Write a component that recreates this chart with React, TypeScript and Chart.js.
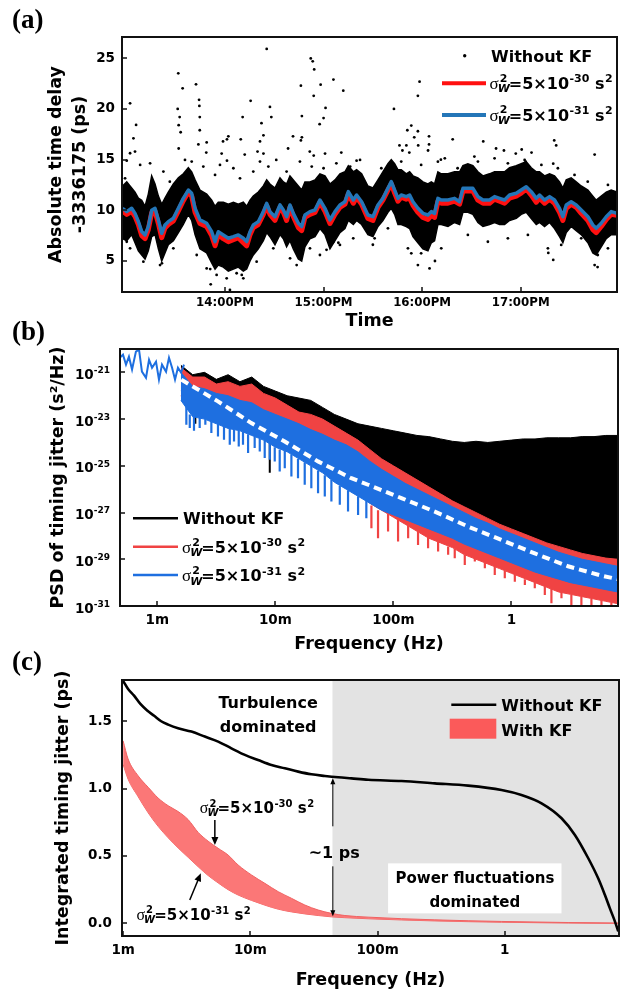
import React, { useEffect, useRef } from 'react';
import { Chart, registerables } from 'chart.js';

Chart.register(...registerables);

const SANS = '"DejaVu Sans", "Liberation Sans", Arial, sans-serif';
const SERIF = '"Liberation Serif", "DejaVu Serif", serif';

// ================= Panel (a): absolute time delay =================
const timeHours = [12.96, 13.003, 13.053, 13.087, 13.121, 13.155, 13.189, 13.222, 13.256, 13.29, 13.324, 13.358, 13.391, 13.425, 13.476, 13.527, 13.577, 13.628, 13.662, 13.696, 13.746, 13.814, 13.865, 13.899, 13.932, 13.983, 14.034, 14.085, 14.135, 14.186, 14.22, 14.254, 14.287, 14.338, 14.389, 14.423, 14.456, 14.507, 14.558, 14.592, 14.625, 14.659, 14.693, 14.744, 14.778, 14.811, 14.862, 14.913, 14.963, 15.014, 15.065, 15.116, 15.166, 15.217, 15.251, 15.302, 15.335, 15.386, 15.45, 15.501, 15.552, 15.602, 15.653, 15.687, 15.721, 15.755, 15.788, 15.839, 15.873, 15.907, 15.957, 16.008, 16.059, 16.093, 16.126, 16.16, 16.194, 16.262, 16.329, 16.38, 16.414, 16.464, 16.515, 16.566, 16.617, 16.684, 16.735, 16.786, 16.836, 16.887, 16.955, 17.005, 17.056, 17.107, 17.158, 17.191, 17.242, 17.293, 17.343, 17.394, 17.428, 17.462, 17.512, 17.563, 17.614, 17.682, 17.732, 17.766, 17.817, 17.868, 17.918, 17.977];
const kf31Delay = [10.2, 9.87, 10.2, 9.7, 8.9, 7.9, 7.57, 8.4, 10.0, 10.2, 9.05, 7.73, 8.55, 8.88, 9.21, 10.2, 11.18, 12.0, 11.68, 10.2, 9.05, 8.72, 7.89, 6.91, 7.89, 7.57, 7.24, 7.4, 7.57, 7.24, 6.91, 7.89, 8.55, 8.88, 9.87, 10.69, 9.87, 9.37, 10.53, 10.03, 9.37, 10.53, 9.7, 8.72, 8.39, 9.54, 9.87, 10.03, 11.02, 10.2, 9.05, 9.87, 10.53, 10.85, 11.84, 11.02, 11.51, 10.85, 9.54, 9.37, 10.53, 11.18, 12.17, 12.83, 12.0, 11.18, 11.51, 11.35, 11.51, 10.85, 10.2, 9.7, 9.54, 9.87, 9.7, 11.18, 11.02, 11.02, 11.18, 10.85, 12.17, 12.17, 12.17, 11.35, 11.02, 11.02, 11.35, 11.18, 11.02, 11.51, 11.68, 12.0, 12.33, 11.84, 11.18, 11.51, 11.02, 11.35, 11.02, 10.2, 9.37, 10.53, 10.85, 10.53, 10.03, 9.37, 8.55, 8.22, 8.72, 9.37, 9.87, 9.7];
const kf30Delay = [9.95, 9.6, 9.9, 9.4, 8.6, 7.5, 7.2, 8.1, 9.75, 9.9, 8.7, 7.3, 8.25, 8.6, 8.95, 9.95, 10.95, 11.8, 11.4, 9.8, 8.7, 8.4, 7.5, 6.5, 7.6, 7.2, 6.9, 7.1, 7.3, 6.8, 6.5, 7.6, 8.3, 8.6, 9.6, 10.45, 9.6, 9.0, 10.3, 9.8, 9.0, 10.3, 9.4, 8.3, 8.0, 9.3, 9.6, 9.8, 10.8, 9.9, 8.7, 9.6, 10.3, 10.6, 11.6, 10.7, 11.3, 10.6, 9.2, 9.0, 10.3, 11.0, 12.0, 12.6, 11.7, 10.9, 11.3, 11.1, 11.2, 10.5, 9.8, 9.3, 9.1, 9.5, 9.3, 10.9, 10.7, 10.7, 10.9, 10.6, 11.9, 11.9, 11.9, 11.0, 10.7, 10.7, 11.1, 10.9, 10.7, 11.2, 11.4, 11.7, 12.1, 11.5, 10.8, 11.2, 10.7, 11.1, 10.7, 9.8, 9.0, 10.2, 10.6, 10.3, 9.7, 9.0, 8.1, 7.8, 8.4, 9.1, 9.6, 9.5];
const rawDenseUpper = [12.4, 12.8, 12.2, 11.8, 11.2, 11.0, 10.4, 11.6, 13.4, 12.6, 11.4, 10.6, 11.2, 11.8, 12.6, 13.2, 13.6, 14.2, 13.8, 13.0, 12.0, 11.6, 11.0, 10.4, 10.8, 10.8, 10.6, 10.8, 10.6, 10.8, 10.4, 11.0, 11.4, 11.8, 12.4, 13.0, 12.6, 12.2, 13.2, 12.8, 12.6, 13.4, 13.0, 12.4, 12.0, 12.8, 12.8, 13.0, 13.6, 13.4, 12.6, 13.0, 13.6, 13.8, 14.4, 13.8, 14.0, 13.6, 12.4, 12.2, 13.0, 13.8, 14.6, 15.0, 14.6, 14.0, 14.0, 13.6, 13.8, 13.4, 13.2, 12.8, 12.6, 12.8, 12.6, 13.8, 13.6, 13.6, 13.8, 13.8, 14.4, 14.6, 14.4, 13.8, 13.4, 13.6, 13.8, 13.8, 13.8, 14.2, 14.4, 14.6, 14.8, 14.2, 13.8, 13.8, 13.4, 13.6, 13.4, 12.8, 12.2, 13.0, 13.2, 12.8, 12.4, 12.0, 11.4, 11.0, 11.4, 11.8, 12.0, 11.8];
const rawDenseLower = [7.2, 7.0, 7.6, 6.8, 6.0, 5.6, 5.2, 6.0, 7.4, 7.6, 6.2, 5.0, 5.8, 6.6, 7.0, 7.8, 8.6, 9.6, 9.0, 7.6, 6.2, 5.8, 4.8, 4.2, 4.6, 4.4, 4.0, 4.2, 4.4, 4.0, 4.2, 5.0, 5.6, 6.2, 7.0, 7.8, 7.4, 6.6, 7.6, 7.2, 6.4, 7.0, 6.2, 5.2, 5.0, 6.4, 7.2, 7.4, 8.2, 7.6, 6.2, 7.0, 7.8, 8.2, 9.0, 8.6, 9.0, 8.6, 7.6, 7.4, 8.4, 9.0, 9.8, 10.2, 9.6, 8.6, 8.6, 8.4, 8.2, 7.4, 6.8, 6.2, 6.0, 6.8, 7.0, 8.6, 8.6, 8.4, 8.8, 8.6, 9.8, 9.8, 9.6, 8.8, 8.4, 8.6, 8.8, 8.6, 8.6, 9.0, 9.2, 9.6, 9.8, 9.2, 8.6, 8.8, 8.4, 8.8, 8.2, 7.4, 6.8, 7.8, 8.4, 8.0, 7.6, 6.8, 5.8, 5.6, 6.4, 7.2, 7.6, 7.6];
const rawOutlierHours = [13.037, 13.071, 13.098, 13.037, 13.087, 13.003, 13.526, 13.57, 13.52, 13.54, 13.53, 13.55, 13.53, 13.706, 13.737, 13.74, 13.744, 13.744, 13.73, 13.814, 13.81, 14.05, 13.855, 13.966, 14.034, 14.02, 13.98, 14.02, 14.179, 14.16, 14.2, 14.26, 14.33, 14.37, 14.39, 14.355, 14.423, 14.456, 14.47, 14.39, 14.77, 14.78, 14.78, 14.77, 14.64, 14.69, 14.87, 14.89, 14.905, 14.9, 14.97, 15.0, 14.96, 14.86, 14.9, 15.02, 15.1, 15.2, 15.015, 15.18, 15.335, 14.17, 13.36, 13.85, 15.03, 15.1, 15.15, 15.974, 15.957, 15.714, 15.89, 15.85, 15.957, 15.77, 15.8, 15.84, 15.87, 15.96, 15.92, 16.07, 16.07, 16.06, 16.16, 16.31, 16.19, 16.53, 16.62, 16.75, 16.83, 16.95, 17.01, 17.05, 17.11, 17.34, 17.36, 17.33, 17.75, 15.89, 15.99, 16.13, 17.28, 17.33, 17.75, 17.78, 15.5];
const rawOutlierDelay = [20.56, 17.1, 18.42, 15.63, 15.8, 14.9, 23.52, 22.04, 20.0, 19.2, 18.4, 17.7, 16.1, 22.43, 20.9, 20.3, 19.2, 17.9, 16.5, 16.7, 15.7, 2.14, 2.7, 15.6, 17.3, 17.0, 16.8, 14.9, 19.2, 17.0, 15.5, 20.8, 15.8, 18.6, 17.4, 16.8, 25.92, 20.2, 19.2, 15.6, 22.3, 19.3, 17.2, 16.9, 16.1, 17.3, 24.99, 24.7, 23.9, 21.3, 22.4, 19.1, 18.5, 15.8, 15.4, 20.1, 22.9, 21.8, 15.6, 15.7, 14.9, 3.62, 4.77, 4.2, 6.1, 6.9, 6.8, 22.69, 21.3, 20.0, 18.36, 17.9, 17.8, 16.4, 15.9, 16.4, 15.7, 16.4, 17.2, 17.3, 16.5, 15.9, 14.8, 17.0, 15.0, 15.3, 16.8, 16.1, 15.9, 15.6, 16.0, 14.8, 15.7, 16.9, 16.4, 14.6, 15.5, 5.76, 5.76, 5.0, 5.8, 5.1, 4.6, 4.4, 6.6];
const rawEdgeHours = [12.986, 13.139, 13.24, 13.375, 13.44, 13.594, 13.662, 13.78, 13.899, 13.949, 14.085, 14.152, 14.287, 14.355, 14.44, 14.52, 14.625, 14.76, 14.88, 15.0, 15.13, 15.27, 15.37, 13.003, 13.037, 13.172, 13.341, 13.476, 13.713, 13.814, 13.915, 14.017, 14.118, 14.186, 14.321, 14.49, 14.66, 14.727, 14.862, 14.963, 15.166, 15.301, 15.586, 15.788, 15.99, 16.23, 16.36, 16.566, 16.735, 16.87, 17.04, 17.21, 17.377, 17.546, 17.68, 17.885, 15.518, 15.653, 15.856, 15.957, 16.075, 16.194, 16.464, 16.667, 16.87, 17.073, 17.276, 17.411, 17.614, 17.782, 17.885];
const rawEdgeDelay = [13.16, 14.48, 14.64, 13.82, 12.83, 14.97, 14.81, 14.32, 13.49, 14.48, 14.15, 13.16, 13.82, 14.81, 14.32, 14.97, 13.82, 14.81, 14.32, 14.15, 14.64, 14.32, 14.97, 6.9, 6.25, 4.93, 4.6, 6.25, 5.59, 4.27, 3.62, 3.29, 3.79, 3.29, 4.93, 6.25, 5.26, 4.6, 6.25, 5.59, 6.58, 7.24, 14.15, 14.81, 14.48, 15.13, 14.15, 14.81, 15.13, 14.64, 14.97, 14.48, 14.15, 13.49, 12.83, 12.5, 7.24, 8.22, 6.25, 4.6, 4.27, 6.25, 7.57, 6.9, 7.24, 7.57, 6.25, 6.58, 7.24, 5.59, 6.25];
const timeTickValues = [14, 15, 16, 17];
const timeTickLabels = ['14:00PM', '15:00PM', '16:00PM', '17:00PM'];
const delayTickValues = [5, 10, 15, 20, 25];

// ================= Panel (b): PSD (values as log10 exponents) =================
const psdLowFreq = [0.000483, 0.000512, 0.000543, 0.000575, 0.000611, 0.000659, 0.0007, 0.000741, 0.000802, 0.000851, 0.000902, 0.000975, 0.001033, 0.001096, 0.001186, 0.001256, 0.001334, 0.001413, 0.001496, 0.001589, 0.001683];
const psdLowExp = [-20.37, -20.24, -20.67, -20.33, -20.88, -20.11, -20.03, -20.97, -21.23, -20.46, -20.8, -20.54, -21.31, -20.67, -20.97, -20.37, -20.8, -21.31, -20.8, -21.01, -20.67];
const psdFreq = [0.001585, 0.001995, 0.002512, 0.003162, 0.003981, 0.005012, 0.00631, 0.007943, 0.01, 0.01259, 0.01585, 0.01995, 0.02512, 0.03162, 0.03981, 0.05012, 0.0631, 0.07943, 0.1, 0.1259, 0.1585, 0.1995, 0.2512, 0.3162, 0.3981, 0.5012, 0.631, 0.7943, 1, 1.259, 1.585, 1.995, 2.512, 3.162, 3.981, 5.012, 6.31, 7.943];
const noKfUpperExp = [-20.7, -21.1, -21.0, -21.3, -21.1, -21.4, -21.2, -21.6, -21.8, -22.0, -22.1, -22.2, -22.5, -22.8, -23.0, -23.2, -23.3, -23.4, -23.5, -23.6, -23.7, -23.75, -23.85, -23.95, -24.0, -23.95, -24.0, -23.95, -23.9, -23.85, -23.85, -23.8, -23.8, -23.8, -23.75, -23.75, -23.7, -23.7];
const noKfLowerExp = [-21.8, -22.2, -22.2, -22.5, -22.4, -22.6, -22.5, -22.9, -23.1, -23.4, -23.7, -23.8, -24.0, -24.3, -24.6, -24.9, -25.3, -25.7, -26.0, -26.3, -26.6, -26.9, -27.2, -27.5, -27.75, -28.0, -28.25, -28.5, -28.7, -28.9, -29.1, -29.3, -29.45, -29.6, -29.75, -29.85, -29.95, -30.0];
const kf30UpperExp = [-20.8, -21.2, -21.2, -21.5, -21.4, -21.6, -21.5, -21.9, -22.1, -22.4, -22.7, -22.8, -23.0, -23.3, -23.6, -23.9, -24.3, -24.7, -25.0, -25.3, -25.6, -25.9, -26.2, -26.5, -26.75, -27.0, -27.25, -27.5, -27.7, -27.9, -28.1, -28.3, -28.45, -28.6, -28.75, -28.85, -28.95, -29.0];
const kf30LowerExp = [-22.0, -22.8, -22.8, -23.0, -23.2, -23.3, -23.5, -23.7, -24.0, -24.2, -24.5, -24.8, -25.2, -25.5, -25.9, -26.2, -26.6, -26.9, -27.2, -27.5, -27.8, -28.1, -28.3, -28.5, -28.8, -29.0, -29.2, -29.4, -29.6, -29.8, -30.0, -30.2, -30.4, -30.5, -30.6, -30.7, -30.8, -30.9];
const kf31UpperExp = [-21.0, -21.6, -21.7, -21.9, -22.0, -22.2, -22.3, -22.6, -22.8, -23.0, -23.2, -23.45, -23.65, -23.9, -24.1, -24.4, -24.8, -25.15, -25.45, -25.75, -26.0, -26.25, -26.5, -26.75, -27.0, -27.25, -27.45, -27.7, -27.9, -28.1, -28.3, -28.5, -28.7, -28.85, -29.0, -29.1, -29.2, -29.3];
const kf31LowerExp = [-22.2, -22.9, -23.0, -23.2, -23.4, -23.5, -23.7, -23.9, -24.2, -24.4, -24.7, -25.0, -25.3, -25.7, -26.0, -26.3, -26.6, -26.9, -27.1, -27.3, -27.5, -27.7, -27.9, -28.1, -28.35, -28.55, -28.75, -28.95, -29.15, -29.35, -29.55, -29.7, -29.85, -30.0, -30.1, -30.2, -30.3, -30.4];
const fitFreq = [0.001596, 0.003266, 0.006266, 0.01202, 0.02301, 0.04406, 0.06109, 0.1169, 0.2244, 0.4295, 0.8222, 1.578, 3.02, 5.794, 7.943];
const fitExp = [-21.31, -22.24, -23.17, -23.96, -24.81, -25.53, -25.81, -26.38, -26.96, -27.6, -28.17, -28.75, -29.3, -29.7, -29.85];
const kf31SpikeFreq = [0.001762, 0.001884, 0.002046, 0.002286, 0.002553, 0.002871, 0.003266, 0.003673, 0.004111, 0.004467, 0.004898, 0.005321, 0.005875, 0.006683, 0.007379, 0.008128, 0.008974, 0.009886, 0.01089, 0.01202, 0.01368, 0.01556, 0.01774, 0.02018, 0.02301, 0.02624, 0.02985, 0.03516, 0.0413, 0.05023, 0.05902];
const kf31SpikeTopExp = [-22.4, -22.8, -22.9, -22.95, -23.0, -23.1, -23.2, -23.3, -23.4, -23.45, -23.5, -23.55, -23.65, -23.75, -23.85, -23.9, -24.05, -24.2, -24.3, -24.35, -24.5, -24.7, -24.85, -25.0, -25.2, -25.4, -25.6, -25.85, -26.05, -26.3, -26.5];
const kf31SpikeBottomExp = [-23.24, -23.38, -23.5, -23.38, -23.24, -23.6, -23.74, -23.88, -24.1, -23.96, -24.17, -24.1, -24.45, -24.24, -24.39, -24.67, -24.74, -24.81, -25.24, -25.1, -25.46, -25.53, -25.81, -25.96, -26.17, -26.31, -26.53, -26.67, -26.96, -27.1, -27.24];
const kf30SpikeFreq = [0.06516, 0.07413, 0.09016, 0.1096, 0.1334, 0.1618, 0.1968, 0.2393, 0.2911, 0.3311, 0.4027, 0.4898, 0.5957, 0.7228, 0.879, 1.069, 1.3, 1.578, 1.919, 2.183, 2.655, 3.221, 3.917, 4.764, 5.794, 7.031];
const kf30SpikeTopExp = [-26.7, -26.9, -27.05, -27.3, -27.55, -27.75, -28.0, -28.25, -28.45, -28.55, -28.8, -28.95, -29.15, -29.3, -29.5, -29.65, -29.85, -30.0, -30.15, -30.25, -30.4, -30.5, -30.6, -30.7, -30.75, -30.85];
const kf30SpikeBottomExp = [-27.67, -28.1, -27.81, -28.24, -28.1, -28.39, -28.53, -28.67, -28.81, -28.96, -29.24, -29.1, -29.38, -29.67, -29.81, -29.96, -30.1, -30.24, -30.53, -30.88, -30.67, -30.96, -31, -31, -31, -31];
const noKfSpikeFreq = [0.00897, 0.0021];
const noKfSpikeTopExp = [-24.0, -22.7];
const noKfSpikeBottomExp = [-25.3, -23.2];
const freqTickValues = [0.001, 0.01, 0.1, 1];
const freqTickLabels = ['1m', '10m', '100m', '1'];
const psdTickExps = [-31, -29, -27, -25, -23, -21];

// ================= Panel (c): integrated timing jitter =================
const jitNoKfFreq = [0.001, 0.001094, 0.001219, 0.001361, 0.001545, 0.001754, 0.001991, 0.00226, 0.002704, 0.003443, 0.004385, 0.005585, 0.007096, 0.009057, 0.0115, 0.01466, 0.01866, 0.02377, 0.0302, 0.03855, 0.04898, 0.06237, 0.08433, 0.1542, 0.2818, 0.5152, 0.9419, 1.352, 1.945, 2.793, 3.556, 4.529, 5.42, 6.124, 6.699, 7.345, 7.8];
const jitNoKf = [1.80, 1.74, 1.69, 1.63, 1.58, 1.54, 1.50, 1.475, 1.448, 1.423, 1.386, 1.349, 1.299, 1.25, 1.212, 1.175, 1.151, 1.126, 1.106, 1.094, 1.084, 1.076, 1.066, 1.056, 1.039, 1.022, 0.99, 0.953, 0.891, 0.78, 0.656, 0.483, 0.334, 0.21, 0.111, 0.013, -0.06];
const jitKfFreq = [0.001, 0.001094, 0.001312, 0.001574, 0.001884, 0.00226, 0.002704, 0.003243, 0.00389, 0.004656, 0.005585, 0.006683, 0.008017, 0.01021, 0.013, 0.01656, 0.02104, 0.0268, 0.03412, 0.04345, 0.05534, 0.08433, 0.2818, 0.9419, 3.148, 7.798];
const jitKf30 = [1.355, 1.22, 1.095, 1.01, 0.93, 0.873, 0.83, 0.77, 0.675, 0.61, 0.557, 0.507, 0.433, 0.359, 0.297, 0.235, 0.186, 0.136, 0.099, 0.074, 0.058, 0.046, 0.026, 0.014, 0.006, 0.002];
const jitKf31 = [1.18, 1.07, 0.94, 0.82, 0.72, 0.635, 0.56, 0.49, 0.42, 0.355, 0.30, 0.25, 0.21, 0.17, 0.135, 0.105, 0.085, 0.07, 0.058, 0.048, 0.042, 0.034, 0.018, 0.008, 0.002, 0.0];
const jitTickValues = [0, 0.5, 1.0, 1.5];
const turbulenceEdgeFreq = 0.0442;

// ================= helpers =================
const pts = (xs: number[], ys: number[]) => xs.map((x, i) => ({ x, y: ys[i] }));
const ptsExp = (xs: number[], es: number[]) => xs.map((x, i) => ({ x, y: Math.pow(10, es[i]) }));
const spikes = (xs: number[], tops: number[], bottoms: number[]) =>
  xs.flatMap((x, i) => [
    { x, y: Math.pow(10, tops[i]) },
    { x, y: Math.pow(10, bottoms[i]) },
    { x, y: null as any },
  ]);

const tickFont = { family: SANS, size: 13.5, weight: 'bold' as any };
const titleFont = { family: SANS, size: 17.5, weight: 'bold' as any, lineHeight: 1.2 };

const font = (size: number, italic = false, fam = SANS) => `${italic ? 'italic ' : ''}bold ${size}px ${fam}`;

function drawSigma(ctx: CanvasRenderingContext2D, x: number, baseline: number, exp: string, size: number) {
  const small = Math.round(size * 0.66);
  ctx.save();
  ctx.fillStyle = '#000';
  ctx.textAlign = 'left';
  ctx.textBaseline = 'alphabetic';
  ctx.font = `${size + 1}px ${SERIF}`;
  ctx.fillText('σ', x, baseline);
  x += ctx.measureText('σ').width;
  ctx.font = font(small);
  ctx.fillText('2', x + 1, baseline - size * 0.45);
  const w2 = ctx.measureText('2').width;
  ctx.font = font(small, true);
  ctx.fillText('W', x - 1, baseline + size * 0.2);
  const wW = ctx.measureText('W').width;
  x += Math.max(w2 + 1, wW - 2);
  ctx.font = font(size);
  ctx.fillText('=5×10', x, baseline);
  x += ctx.measureText('=5×10').width + 0.5;
  ctx.font = font(small);
  ctx.fillText(exp, x, baseline - size * 0.42);
  x += ctx.measureText(exp).width;
  ctx.font = font(size);
  ctx.fillText(' s', x, baseline);
  x += ctx.measureText(' s').width + 0.5;
  ctx.font = font(small);
  ctx.fillText('2', x, baseline - size * 0.42);
  ctx.restore();
}

function drawArrow(ctx: CanvasRenderingContext2D, x1: number, y1: number, x2: number, y2: number, lw: number, head: number, hw: number) {
  const ang = Math.atan2(y2 - y1, x2 - x1);
  ctx.save();
  ctx.strokeStyle = '#000';
  ctx.fillStyle = '#000';
  ctx.lineWidth = lw;
  ctx.beginPath();
  ctx.moveTo(x1, y1);
  ctx.lineTo(x2 - Math.cos(ang) * head * 0.8, y2 - Math.sin(ang) * head * 0.8);
  ctx.stroke();
  ctx.beginPath();
  ctx.moveTo(x2, y2);
  ctx.lineTo(x2 - Math.cos(ang) * head - Math.sin(ang) * hw, y2 - Math.sin(ang) * head + Math.cos(ang) * hw);
  ctx.lineTo(x2 - Math.cos(ang) * head + Math.sin(ang) * hw, y2 - Math.sin(ang) * head - Math.cos(ang) * hw);
  ctx.closePath();
  ctx.fill();
  ctx.restore();
}

const framePlugin = {
  id: 'frame',
  afterDraw(chart: any) {
    const { ctx, chartArea: a, scales } = chart;
    ctx.save();
    ctx.strokeStyle = '#111';
    ctx.lineWidth = 2;
    ctx.strokeRect(a.left, a.top, a.right - a.left, a.bottom - a.top);
    ctx.lineWidth = 1.5;
    ctx.beginPath();
    scales.x.ticks.forEach((t: any) => {
      const p = Math.round(scales.x.getPixelForValue(t.value));
      ctx.moveTo(p, a.bottom);
      ctx.lineTo(p, a.bottom - 5);
    });
    scales.y.ticks.forEach((t: any) => {
      const p = Math.round(scales.y.getPixelForValue(t.value));
      ctx.moveTo(a.left, p);
      ctx.lineTo(a.left + 5, p);
    });
    ctx.stroke();
    ctx.restore();
  },
};

const letterPlugin = (text: string, x: number, y: number) => ({
  id: 'letter' + text,
  afterDraw(chart: any) {
    const ctx = chart.ctx;
    ctx.save();
    ctx.fillStyle = '#000';
    ctx.font = `bold 27px ${SERIF}`;
    ctx.textAlign = 'left';
    ctx.textBaseline = 'alphabetic';
    ctx.fillText(text, x, y);
    ctx.restore();
  },
});

const freqLabel = (v: any) => {
  const i = freqTickValues.indexOf(Number(v));
  return i >= 0 ? freqTickLabels[i] : '';
};

// ================= builders =================
const RED_A = '#ff1010';
const BLUE_A = '#2476b8';
const RED_B = '#f04343';
const BLUE_B = '#1e6fe0';

function buildA(canvas: HTMLCanvasElement) {
  const legend = {
    id: 'legendA',
    afterDraw(chart: any) {
      const ctx = chart.ctx;
      ctx.save();
      ctx.fillStyle = '#000';
      ctx.beginPath();
      ctx.arc(464.7, 55.7, 1.7, 0, Math.PI * 2);
      ctx.fill();
      ctx.font = font(16);
      ctx.textAlign = 'left';
      ctx.textBaseline = 'alphabetic';
      ctx.fillText('Without KF', 491, 61.7);
      ctx.lineWidth = 4;
      ctx.strokeStyle = RED_A;
      ctx.beginPath();
      ctx.moveTo(442, 83.3);
      ctx.lineTo(486, 83.3);
      ctx.stroke();
      ctx.strokeStyle = BLUE_A;
      ctx.beginPath();
      ctx.moveTo(442, 115);
      ctx.lineTo(486, 115);
      ctx.stroke();
      ctx.restore();
      drawSigma(ctx, 489.5, 88.8, '-30', 16);
      drawSigma(ctx, 489.5, 120.5, '-31', 16);
    },
  };
  return new Chart(canvas, {
    type: 'line',
    data: {
      datasets: [
        { label: 'σ²W=5×10⁻³¹ s²', data: pts(timeHours, kf31Delay), borderColor: BLUE_A, borderWidth: 3.5, pointRadius: 0, fill: false, order: 0, borderJoinStyle: 'round' },
        { label: 'σ²W=5×10⁻³⁰ s²', data: pts(timeHours, kf30Delay), borderColor: RED_A, borderWidth: 5, pointRadius: 0, fill: false, order: 1, borderJoinStyle: 'round' },
        { label: 'Without KF (sparse)', data: pts(rawOutlierHours, rawOutlierDelay), showLine: false, pointRadius: 1.4, pointBackgroundColor: '#000', pointBorderWidth: 0, order: 2 },
        { label: 'Without KF (edge)', data: pts(rawEdgeHours, rawEdgeDelay), showLine: false, pointRadius: 1.4, pointBackgroundColor: '#000', pointBorderWidth: 0, order: 3 },
        { label: 'Without KF (dense upper)', data: pts(timeHours, rawDenseUpper), borderColor: '#000', borderWidth: 1.5, pointRadius: 0, fill: '+1', backgroundColor: '#000', order: 4 },
        { label: 'Without KF (dense lower)', data: pts(timeHours, rawDenseLower), borderColor: '#000', borderWidth: 1.5, pointRadius: 0, fill: false, order: 5 },
      ] as any,
    },
    options: {
      animation: false,
      responsive: false,
      layout: { padding: { left: 0, top: 37, right: 5, bottom: 0 } },
      plugins: { legend: { display: false }, tooltip: { enabled: false } },
      scales: {
        x: {
          type: 'linear',
          min: 12.955,
          max: 17.977,
          grid: { display: false, drawTicks: false },
          border: { display: false },
          afterBuildTicks: (s: any) => { s.ticks = timeTickValues.map((v) => ({ value: v })); },
          afterFit: (s: any) => { s.height = 43; },
          ticks: {
            font: { family: SANS, size: 11.8, weight: 'bold' as any },
            color: '#000',
            padding: 3.7,
            maxRotation: 0,
            minRotation: 0,
            autoSkip: false,
            callback: (v: any) => { const i = timeTickValues.indexOf(Number(v)); return i >= 0 ? timeTickLabels[i] : ''; },
          },
          title: { display: true, text: 'Time', font: titleFont, color: '#000', padding: { top: 0, bottom: 3 } },
        },
        y: {
          type: 'linear',
          min: 1.94,
          max: 27.1,
          grid: { display: false, drawTicks: false },
          border: { display: false },
          afterBuildTicks: (s: any) => { s.ticks = delayTickValues.map((v) => ({ value: v })); },
          afterFit: (s: any) => { s.width = 122; },
          ticks: { font: tickFont, color: '#000', padding: 7, autoSkip: false },
          title: {
            display: true,
            text: ['Absolute time delay', '-3336175 (ps)'],
            font: { family: SANS, size: 17.5, weight: 'bold' as any, lineHeight: 24 / 17.5 },
            color: '#000',
            padding: { top: 44, bottom: 0 },
          },
        },
      },
    } as any,
    plugins: [framePlugin, letterPlugin('(a)', 12, 28), legend],
  });
}

function buildB(canvas: HTMLCanvasElement) {
  const extras = {
    id: 'extrasB',
    afterDraw(chart: any) {
      const { ctx, chartArea: a, scales } = chart;
      ctx.save();
      ctx.fillStyle = '#000';
      ctx.textAlign = 'left';
      ctx.textBaseline = 'alphabetic';
      psdTickExps.forEach((e) => {
        const py = scales.y.getPixelForValue(Math.pow(10, e));
        const es = String(e);
        ctx.font = font(13.5);
        const w10 = ctx.measureText('10').width;
        ctx.font = font(9);
        const we = ctx.measureText(es).width;
        const x0 = a.left - 10 - w10 - we;
        ctx.font = font(13.5);
        ctx.fillText('10', x0, py + 6.5);
        ctx.font = font(9);
        ctx.fillText(es, x0 + w10, py + 0.8);
      });
      const rows = [
        { c: '#000', y: 200.3 },
        { c: RED_B, y: 228.7 },
        { c: BLUE_B, y: 257 },
      ];
      ctx.lineWidth = 2.5;
      rows.forEach((r) => {
        ctx.strokeStyle = r.c;
        ctx.beginPath();
        ctx.moveTo(133, r.y);
        ctx.lineTo(178, r.y);
        ctx.stroke();
      });
      ctx.font = font(16);
      ctx.fillText('Without KF', 183, 206);
      ctx.restore();
      drawSigma(ctx, 182, 235, '-30', 16);
      drawSigma(ctx, 182, 263.3, '-31', 16);
    },
  };
  const band = (label: string, xs: number[], es: number[], color: string, order: number, fill: any) => ({
    label, data: ptsExp(xs, es), borderColor: color, borderWidth: 1, pointRadius: 0, fill, backgroundColor: color, order,
  });
  return new Chart(canvas, {
    type: 'line',
    data: {
      datasets: [
        { label: 'Fit', data: ptsExp(fitFreq, fitExp), borderColor: '#ffffff', borderWidth: 4, borderDash: [8, 5], pointRadius: 0, fill: false, order: 0 },
        { label: 'Low-frequency PSD', data: ptsExp(psdLowFreq, psdLowExp), borderColor: BLUE_B, borderWidth: 2, pointRadius: 0, fill: false, order: 1 },
        band('σ²W=5×10⁻³¹ s² upper', psdFreq, kf31UpperExp, BLUE_B, 2, '+1'),
        band('σ²W=5×10⁻³¹ s² lower', psdFreq, kf31LowerExp, BLUE_B, 3, false),
        { label: 'σ²W=5×10⁻³¹ s² spikes', data: spikes(kf31SpikeFreq, kf31SpikeTopExp, kf31SpikeBottomExp), borderColor: BLUE_B, borderWidth: 2.2, pointRadius: 0, fill: false, spanGaps: false, order: 4 },
        band('σ²W=5×10⁻³⁰ s² upper', psdFreq, kf30UpperExp, RED_B, 5, '+1'),
        band('σ²W=5×10⁻³⁰ s² lower', psdFreq, kf30LowerExp, RED_B, 6, false),
        { label: 'σ²W=5×10⁻³⁰ s² spikes', data: spikes(kf30SpikeFreq, kf30SpikeTopExp, kf30SpikeBottomExp), borderColor: RED_B, borderWidth: 2.2, pointRadius: 0, fill: false, spanGaps: false, order: 7 },
        band('Without KF upper', psdFreq, noKfUpperExp, '#000', 8, '+1'),
        band('Without KF lower', psdFreq, noKfLowerExp, '#000', 9, false),
        { label: 'Without KF spikes', data: spikes(noKfSpikeFreq, noKfSpikeTopExp, noKfSpikeBottomExp), borderColor: '#000', borderWidth: 2, pointRadius: 0, fill: false, spanGaps: false, order: 10 },
      ] as any,
    },
    options: {
      animation: false,
      responsive: false,
      layout: { padding: { left: 0, top: 31, right: 4, bottom: 0 } },
      plugins: { legend: { display: false }, tooltip: { enabled: false } },
      scales: {
        x: {
          type: 'logarithmic',
          min: 0.000483,
          max: 8.0,
          grid: { display: false, drawTicks: false },
          border: { display: false },
          afterBuildTicks: (s: any) => { s.ticks = freqTickValues.map((v) => ({ value: v })); },
          afterFit: (s: any) => { s.height = 345 - 288; },
          ticks: { font: tickFont, color: '#000', padding: 5.9, maxRotation: 0, minRotation: 0, autoSkip: false, callback: freqLabel },
          title: { display: true, text: 'Frequency (Hz)', font: titleFont, color: '#000', padding: { top: 0, bottom: 7.8 } },
        },
        y: {
          type: 'logarithmic',
          min: 1e-31,
          max: 1e-20,
          grid: { display: false, drawTicks: false },
          border: { display: false },
          afterBuildTicks: (s: any) => { s.ticks = psdTickExps.map((e) => ({ value: Math.pow(10, e) })); },
          afterFit: (s: any) => { s.width = 120; },
          ticks: { display: false },
          title: { display: true, text: 'PSD of timing jitter (s²/Hz)', font: titleFont, color: '#000', padding: { top: 47.5, bottom: 0 } },
        },
      },
    } as any,
    plugins: [framePlugin, letterPlugin('(b)', 12, 22), extras],
  });
}

function buildC(canvas: HTMLCanvasElement) {
  const shade = {
    id: 'shadeC',
    beforeDatasetsDraw(chart: any) {
      const { ctx, chartArea: a, scales } = chart;
      const x0 = scales.x.getPixelForValue(turbulenceEdgeFreq);
      ctx.save();
      ctx.fillStyle = '#e3e3e3';
      ctx.fillRect(x0, a.top, a.right - x0, a.bottom - a.top);
      ctx.restore();
    },
  };
  const notes = {
    id: 'notesC',
    afterDatasetsDraw(chart: any) {
      const { ctx, scales } = chart;
      const X = (f: number) => scales.x.getPixelForValue(f);
      const Y = (v: number) => scales.y.getPixelForValue(v);
      ctx.save();
      ctx.fillStyle = '#000';
      ctx.textAlign = 'center';
      ctx.textBaseline = 'alphabetic';
      ctx.font = font(16);
      ctx.fillText('Turbulence', X(0.0138), Y(1.596));
      ctx.fillText('dominated', X(0.0138), Y(1.423));
      ctx.fillStyle = '#ffffff';
      const bx0 = X(0.121), bx1 = X(2.79), by0 = Y(0.445), by1 = Y(0.074);
      ctx.fillRect(bx0, by0, bx1 - bx0, by1 - by0);
      ctx.fillStyle = '#000';
      ctx.font = font(15);
      ctx.fillText('Power fluctuations', X(0.582), Y(0.297));
      ctx.fillText('dominated', X(0.582), Y(0.124));
      ctx.font = font(16);
      ctx.fillText('~1 ps', X(0.0456), Y(0.483));
      ctx.restore();
      const ax = X(0.0445);
      drawArrow(ctx, ax, Y(0.72), ax, Y(1.076), 1, 6, 2.5);
      drawArrow(ctx, ax, Y(0.423), ax, Y(0.052), 1, 6, 2.5);
      drawSigma(ctx, X(0.00401), Y(0.817), '-30', 15);
      drawArrow(ctx, X(0.00526), Y(0.767), X(0.00526), Y(0.581), 1.5, 8, 3.5);
      drawSigma(ctx, X(0.001274), Y(0.0245), '-31', 15);
      drawArrow(ctx, X(0.00334), Y(0.173), X(0.00408), Y(0.371), 1.5, 8, 3.5);
      ctx.save();
      ctx.strokeStyle = '#000';
      ctx.lineWidth = 2.5;
      ctx.beginPath();
      ctx.moveTo(451.3, 54.7);
      ctx.lineTo(496.3, 54.7);
      ctx.stroke();
      ctx.fillStyle = '#fb5a5a';
      ctx.fillRect(449.7, 68.7, 46.6, 20);
      ctx.fillStyle = '#000';
      ctx.font = font(16);
      ctx.textAlign = 'left';
      ctx.fillText('Without KF', 501.3, 61.3);
      ctx.fillText('With KF', 501.3, 86.3);
      ctx.restore();
    },
  };
  return new Chart(canvas, {
    type: 'line',
    data: {
      datasets: [
        { label: 'Without KF', data: pts(jitNoKfFreq, jitNoKf), borderColor: '#000', borderWidth: 2.6, pointRadius: 0, fill: false, order: 0, cubicInterpolationMode: 'monotone' },
        { label: 'With KF σ²W=5×10⁻³⁰ s²', data: pts(jitKfFreq, jitKf30), borderColor: '#f06262', borderWidth: 1, pointRadius: 0, fill: '+1', backgroundColor: '#fb7777', order: 1, cubicInterpolationMode: 'monotone' },
        { label: 'With KF σ²W=5×10⁻³¹ s²', data: pts(jitKfFreq, jitKf31), borderColor: '#f06262', borderWidth: 1, pointRadius: 0, fill: false, order: 2, cubicInterpolationMode: 'monotone' },
      ] as any,
    },
    options: {
      animation: false,
      responsive: false,
      layout: { padding: { left: 0, top: 30, right: 3, bottom: 0 } },
      plugins: { legend: { display: false }, tooltip: { enabled: false } },
      scales: {
        x: {
          type: 'logarithmic',
          min: 0.00098,
          max: 7.9,
          grid: { display: false, drawTicks: false },
          border: { display: false },
          afterBuildTicks: (s: any) => { s.ticks = freqTickValues.map((v) => ({ value: v })); },
          afterFit: (s: any) => { s.height = 346 - 286; },
          ticks: { font: tickFont, color: '#000', padding: 5.9, maxRotation: 0, minRotation: 0, autoSkip: false, callback: freqLabel },
          title: { display: true, text: 'Frequency (Hz)', font: titleFont, color: '#000', padding: { top: 0, bottom: 5.5 } },
        },
        y: {
          type: 'linear',
          min: -0.094,
          max: 1.806,
          grid: { display: false, drawTicks: false },
          border: { display: false },
          afterBuildTicks: (s: any) => { s.ticks = jitTickValues.map((v) => ({ value: v })); },
          afterFit: (s: any) => { s.width = 122; },
          ticks: { font: tickFont, color: '#000', padding: 10, autoSkip: false, callback: (v: any) => Number(v).toFixed(1) },
          title: { display: true, text: 'Integrated timing jitter (ps)', font: titleFont, color: '#000', padding: { top: 52.5, bottom: 0 } },
        },
      },
    } as any,
    plugins: [shade, notes, framePlugin, letterPlugin('(c)', 12, 20)],
  });
}

export default function App() {
  const refA = useRef<HTMLCanvasElement>(null);
  const refB = useRef<HTMLCanvasElement>(null);
  const refC = useRef<HTMLCanvasElement>(null);
  useEffect(() => {
    const charts: any[] = [];
    if (refA.current) charts.push(buildA(refA.current));
    if (refB.current) charts.push(buildB(refB.current));
    if (refC.current) charts.push(buildC(refC.current));
    return () => charts.forEach((c) => c.destroy());
  }, []);
  return (
    <div style={{ position: 'absolute', left: 0, top: 0, width: 622, height: 996, background: '#ffffff' }}>
      <canvas ref={refA} width={622} height={335} style={{ position: 'absolute', left: 0, top: 0 }} />
      <canvas ref={refB} width={622} height={345} style={{ position: 'absolute', left: 0, top: 318 }} />
      <canvas ref={refC} width={622} height={346} style={{ position: 'absolute', left: 0, top: 650 }} />
    </div>
  );
}
